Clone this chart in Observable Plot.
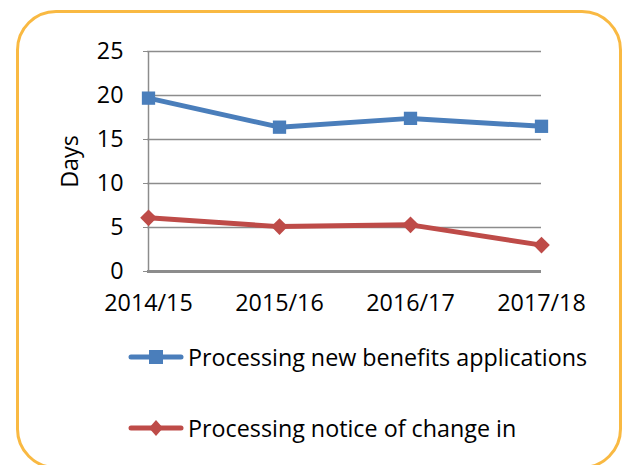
<!DOCTYPE html>
<html>
<head>
<meta charset="utf-8">
<script src="https://cdn.jsdelivr.net/npm/d3@7"></script>
<script src="https://cdn.jsdelivr.net/npm/@observablehq/plot@0.6"></script>
<style>
  html, body { margin: 0; padding: 0; background: #fff; overflow: hidden; }
  #wrap { position: relative; width: 624px; height: 465px; font-family: "Open Sans", Lato, sans-serif; }
  #frame { position: absolute; left: 16px; top: 10px; width: 606px; height: 459px; border: 3px solid #F9B942; border-radius: 40px; box-sizing: border-box; }
  #chart { position: absolute; left: 0; top: 0; }
  #legend { position: absolute; left: 128px; top: 336px; font-size: 23.3px; color: #000; }
  .item { display: flex; align-items: center; height: 42px; margin-bottom: 29px; white-space: nowrap; }
  .item svg { margin-right: 4px; }
</style>
</head>
<body>
<div id="wrap">
  <div id="frame"></div>
  <div id="chart"></div>
  <div id="legend"></div>
</div>
<script>
const years = ["2014/15", "2015/16", "2016/17", "2017/18"];
const newBenefits = [19.7, 16.4, 17.4, 16.5];
const noticeOfChange = [6.1, 5.1, 5.3, 3.0];
const seriesNames = ["Processing new benefits applications", "Processing notice of change in"];
const seriesColors = ["#4A7EBB", "#BE4B48"];
const seriesSymbols = ["square", "diamond2"];
const yTicks = [0, 5, 10, 15, 20, 25];

const data = [];
years.forEach((yr, i) => {
  data.push({year: yr, value: newBenefits[i], series: seriesNames[0]});
  data.push({year: yr, value: noticeOfChange[i], series: seriesNames[1]});
});

const plot = Plot.plot({
  width: 624,
  height: 330,
  marginLeft: 147,
  marginRight: 83,
  marginTop: 51,
  marginBottom: 59,
  style: {fontFamily: "'Open Sans', Lato, sans-serif", fontSize: "23.3px", color: "#000", background: "transparent", overflow: "visible"},
  x: {type: "point", domain: years, padding: 0},
  y: {domain: [0, 25], ticks: yTicks},
  color: {domain: seriesNames, range: seriesColors},
  symbol: {domain: seriesNames, range: seriesSymbols},
  marks: [
    Plot.gridY(yTicks, {stroke: "#8c8c8c", strokeOpacity: 1, strokeWidth: 1.5}),
    Plot.ruleX([years[0]], {y1: 0, y2: 25, stroke: "#8c8c8c", strokeWidth: 1.5}),
    Plot.ruleY([0], {stroke: "#8c8c8c", strokeWidth: 3}),
    Plot.axisY(yTicks, {tickSize: 4, tickPadding: 20, stroke: "#8c8c8c", fill: "#000", fontSize: 23.3, label: "Days", labelAnchor: "center", labelArrow: "none", labelOffset: 86}),
    Plot.axisX({tickSize: 0, tickPadding: 23, fontSize: 23.3, fill: "#000", label: null}),
    Plot.line(data, {x: "year", y: "value", z: "series", stroke: "series", strokeWidth: 5}),
    Plot.dot(data, {x: "year", y: "value", fill: "series", symbol: "series", r: 7.5, stroke: null})
  ]
});
document.getElementById("chart").appendChild(plot);

const legend = document.getElementById("legend");
seriesNames.forEach((name, i) => {
  const item = document.createElement("div");
  item.className = "item";
  const sym = seriesSymbols[i] === "square"
    ? `<rect x="21" y="7" width="14" height="14" fill="${seriesColors[i]}"/>`
    : `<path d="M28,6 L35,14 L28,22 L21,14 Z" fill="${seriesColors[i]}"/>`;
  item.innerHTML = `<svg width="56" height="28"><line x1="3" y1="14" x2="53" y2="14" stroke="${seriesColors[i]}" stroke-width="5" stroke-linecap="round"/>${sym}</svg><span>${name}</span>`;
  legend.appendChild(item);
});
</script>
</body>
</html>
